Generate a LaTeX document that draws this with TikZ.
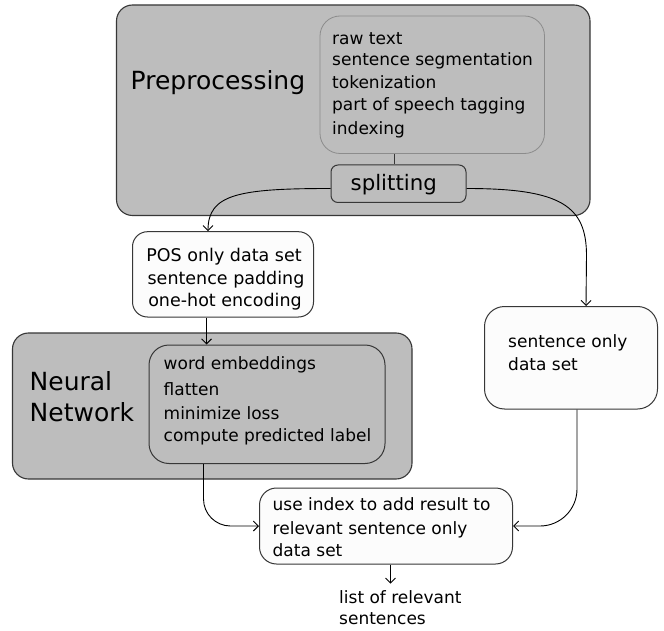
\documentclass[tikz,border=0pt]{standalone}
\usepackage{fontspec}
\setmainfont{DejaVu Sans}
\usetikzlibrary{arrows.meta}
\definecolor{boxgray}{RGB}{189,189,189}
\definecolor{edgedark}{RGB}{55,55,55}
\definecolor{edgelight}{RGB}{140,140,140}
\definecolor{paper}{RGB}{252,252,252}
\begin{document}
\begin{tikzpicture}[x=1pt,y=-1pt,
  outerbox/.style={draw=edgedark, fill=boxgray, line width=1.1pt, inner sep=0pt},
  innerbox/.style={draw=edgedark, fill=boxgray, line width=1pt, inner sep=0pt},
  softbox/.style={draw=edgelight, fill=boxgray, line width=0.8pt, inner sep=0pt},
  whitebox/.style={draw=edgedark, fill=paper, line width=1pt, inner sep=0pt},
  lbl/.style={anchor=base west, inner sep=0pt, font=\fontsize{17}{20}\selectfont},
  clbl/.style={anchor=base, inner sep=0pt, font=\fontsize{17.5}{20}\selectfont},
  biglbl/.style={anchor=base west, inner sep=0pt, font=\fontsize{25}{30}\selectfont},
  conn/.style={draw=black, line width=0.9pt, -{Straight Barb[length=5pt,width=10pt]}},
  link/.style={draw=edgedark, line width=0.8pt}]
\useasboundingbox (0,0) rectangle (664,631);
\fill[white] (0,0) rectangle (664,631);

% boxes
\node[outerbox, rounded corners=16pt, minimum width=473.5pt, minimum height=210.5pt] (pre) at (353.25,110.25) {};
\node[softbox, rounded corners=20pt, minimum width=224.5pt, minimum height=137.5pt] (prein) at (432.25,84.75) {};
\node[innerbox, rounded corners=7pt, minimum width=135pt, minimum height=37.5pt] (split) at (398.5,183.75) {};
\node[whitebox, rounded corners=15pt, minimum width=181pt, minimum height=85.3pt] (pos) at (223,274.35) {};
\node[whitebox, rounded corners=20pt, minimum width=173pt, minimum height=102.5pt] (sent) at (571,357.75) {};
\node[outerbox, rounded corners=16pt, minimum width=399.5pt, minimum height=146pt] (nn) at (212.25,406) {};
\node[innerbox, rounded corners=20pt, minimum width=236pt, minimum height=118.5pt] (nnin) at (267,404.25) {};
\node[whitebox, rounded corners=17pt, minimum width=253pt, minimum height=76pt] (res) at (386,526) {};

% texts
\node[biglbl] (pretitle) at (130.5,90) {Preprocessing};
\node[lbl] (p1) at (332,44.5) {raw text};
\node[lbl] (p2) at (332,65.5) {sentence segmentation};
\node[lbl] (p3) at (332,88.5) {tokenization};
\node[lbl] (p4) at (332,110.5) {part of speech tagging};
\node[lbl] (p5) at (332,134.5) {indexing};
\node[anchor=base west, inner sep=0pt, font=\fontsize{21.3}{24}\selectfont] (splittxt) at (350.5,190.5) {splitting};

\node[clbl] (o1) at (224,261.5) {POS only data set};
\node[clbl] (o2) at (226,284) {sentence padding};
\node[clbl] (o3) at (225,306.5) {one-hot encoding};

\node[lbl] (s1) at (508,347) {sentence only};
\node[lbl] (s2) at (508,370) {data set};

\node[biglbl] (nnt1) at (29.5,390.5) {Neural};
\node[biglbl] (nnt2) at (29.5,421.5) {Network};
\node[lbl] (n1) at (163.5,369) {word embeddings};
\node[lbl] (n2) at (163.5,395.5) {flatten};
\node[lbl] (n3) at (163.5,419) {minimize loss};
\node[lbl] (n4) at (163.5,441.5) {compute predicted label};

\node[lbl] (r1) at (272.5,510.5) {use index to add result to};
\node[lbl] (r2) at (272.5,534) {relevant sentence only};
\node[lbl] (r3) at (272.5,556.5) {data set};

\node[lbl] (l1) at (339,603.3) {list of relevant};
\node[lbl] (l2) at (339,624) {sentences};

% helper coordinates
\coordinate (sx) at (394.5,0);
\coordinate (sy) at (0,188.5);
\coordinate (ax) at (206.5,0);
\coordinate (bx) at (208,0);
\coordinate (cx) at (586,0);
\coordinate (dx) at (203.5,0);
\coordinate (fx) at (577,0);
\coordinate (gx) at (390.5,0);

% connectors
\draw[link] (prein.south -| sx) -- (split.north -| sx);
\draw[conn] (split.west |- sy) .. controls +(-92,0) and +(0,-37) .. (pos.north -| bx);
\draw[conn] (split.east |- sy) .. controls +(94,0) and +(0,-50) .. ++(120,67) -- (sent.north -| cx);
\draw[conn] (pos.south -| ax) -- (nnin.north -| ax);
\draw[conn, rounded corners=27pt] (nnin.south -| dx) |- (res.west);
\draw[conn, rounded corners=37pt] (sent.south -| fx) |- (res.east);
\draw[conn, shorten >=6.5pt] (res.south -| gx) -- (l1.north -| gx);
\end{tikzpicture}
\end{document}
